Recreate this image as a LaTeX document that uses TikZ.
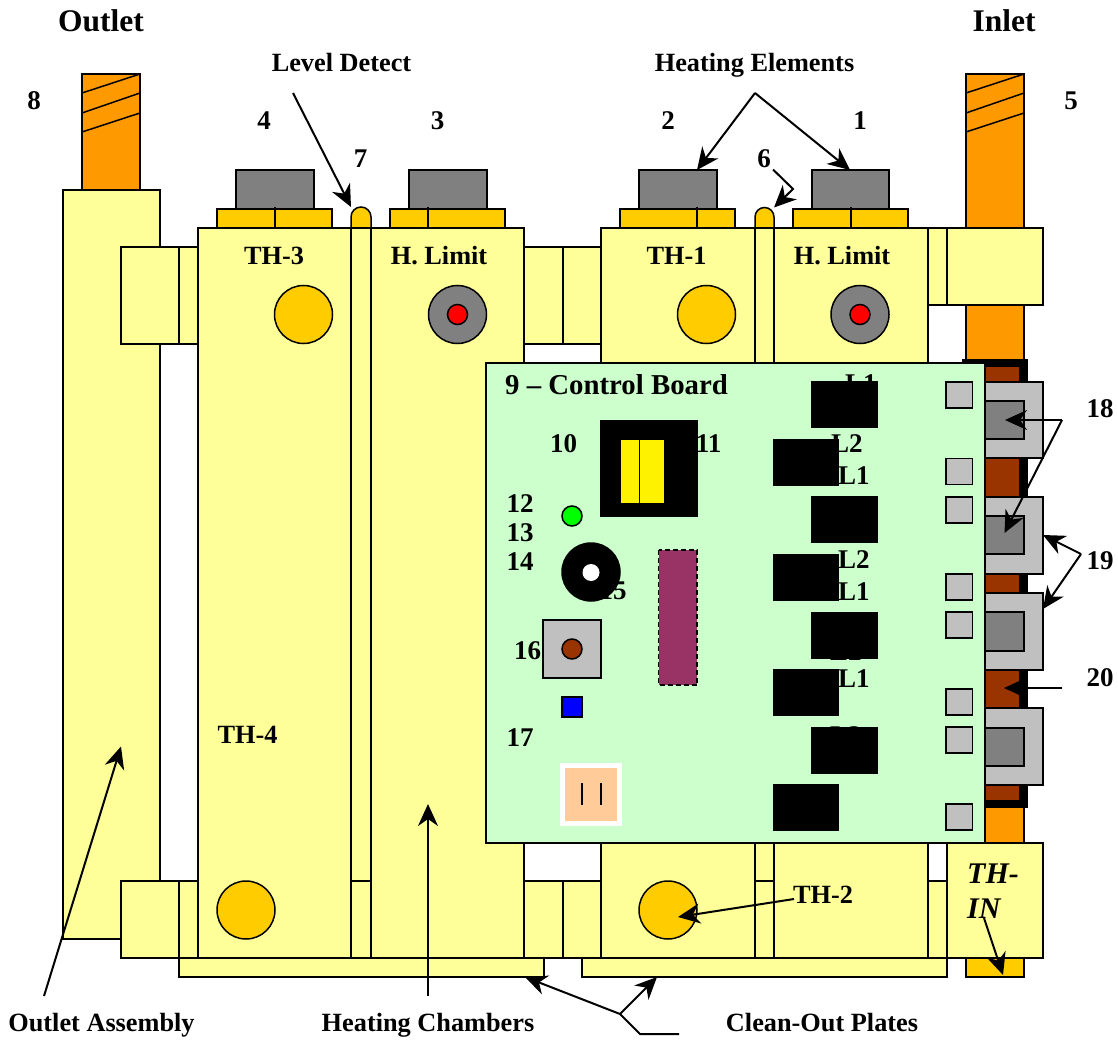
\documentclass[tikz,border=0pt]{standalone}
\usepackage{fontspec}
\setmainfont{Liberation Serif}
\usetikzlibrary{arrows.meta}
\definecolor{cyel}{HTML}{FFFF99}
\definecolor{cbrass}{HTML}{FFCC00}
\definecolor{corange}{HTML}{FF9900}
\definecolor{cgray}{HTML}{808080}
\definecolor{clight}{HTML}{C0C0C0}
\definecolor{cboard}{HTML}{CCFFCC}
\definecolor{cbrown}{HTML}{993300}
\definecolor{cplum}{HTML}{993366}
\definecolor{cpeach}{HTML}{FFCC99}
\tikzset{
  base/.style={draw=black,line width=1.5pt,line join=miter},
  yel/.style={base,fill=cyel},
  brass/.style={base,fill=cbrass},
  pipe/.style={base,fill=corange},
  grayp/.style={base,fill=cgray},
  lightp/.style={base,fill=clight},
  blk/.style={fill=black,draw=black,line width=0.5pt},
  lab/.style={anchor=base,font=\bfseries\fontsize{26.3}{30}\selectfont,inner sep=0pt},
  num/.style={anchor=base,font=\bfseries\fontsize{27}{30}\selectfont,inner sep=0pt},
  big/.style={anchor=base,font=\bfseries\fontsize{31.5}{34}\selectfont,inner sep=0pt},
  ptr/.style={draw=black,line width=2pt,-{Stealth[length=22pt,width=20pt,inset=7pt]}},
  seg/.style={draw=black,line width=2pt}
}
\begin{document}
\begin{tikzpicture}[x=1pt,y=-1pt]
\useasboundingbox (0,0) rectangle (1118,1040);
\fill[white] (0,0) rectangle (1118,1040);

% pipes
\draw[pipe] (82,74) rectangle (140,190);
\foreach \a/\b in {93/74,113/93,132/113} \draw[base] (82,\a) -- (140,\b);
\draw[pipe] (966,74) rectangle (1024,977);
\foreach \a/\b in {93/74,113/93,132/113} \draw[base] (966,\a) -- (1024,\b);
\draw[brass] (966,958) rectangle (1024,977);

% black band, brown core
\fill[black] (962,359) rectangle (1028,808);
\fill[cbrown] (985,367) rectangle (1019,800);

% clips
\foreach \t/\b/\i/\j in {382/458/401/439,497/574/516/554,593/670/612/651,708/785/728/766}{
  \draw[lightp] (966,\t) rectangle (1043,\b);
  \draw[grayp] (966,\i) rectangle (1024,\j);
}

% outlet assembly
\draw[yel] (63,190) rectangle (160,939);

% top connectors
\draw[yel] (121,247) rectangle (179,344);
\draw[yel] (179,247) rectangle (198,344);
\draw[yel] (524,247) rectangle (563,344);
\draw[yel] (563,247) rectangle (601,344);
% bottom connectors
\draw[yel] (121,881) rectangle (179,958);
\draw[yel] (179,881) rectangle (198,958);
\draw[yel] (524,881) rectangle (563,958);
\draw[yel] (563,881) rectangle (601,958);
\draw[yel] (928,881) rectangle (947,958);
\draw[yel] (928,228) rectangle (947,305);
% inlet blocks
\draw[yel] (947,228) rectangle (1043,305);
\draw[yel] (947,843) rectangle (1043,958);

% clean-out plates
\draw[yel] (179,958) rectangle (544,977);
\draw[yel] (582,958) rectangle (947,977);

% domes
\draw[brass] (351,228) -- (351,217) arc[start angle=180,end angle=360,radius=10] -- (371,228) -- cycle;
\draw[brass] (755,228) -- (755,217) arc[start angle=180,end angle=360,radius=9.5] -- (774,228) -- cycle;

% chambers
\draw[yel] (198,228) rectangle (351,958);
\draw[yel] (371,228) rectangle (524,958);
\draw[yel] (601,228) rectangle (755,958);
\draw[yel] (774,228) rectangle (928,958);
\draw[yel] (351,228) rectangle (371,881);
\draw[yel] (351,881) rectangle (371,958);
\draw[yel] (755,228) rectangle (774,881);
\draw[yel] (755,881) rectangle (774,958);

% heating elements
\foreach \gl/\gr/\fl/\fr/\d in {236/314/217/332/275,409/487/390/505/428,639/717/620/735/697,812/889/793/908/851}{
  \draw[grayp] (\gl,170) rectangle (\gr,209);
  \draw[brass] (\fl,209) rectangle (\fr,228);
  \draw[base] (\d,207) -- (\d,228);
}

% ports
\foreach \x/\y in {303.5/314.5,706.5/314.5,246/910,668/910} \draw[brass] (\x,\y) circle[radius=29];
\foreach \x in {457.5,860}{
  \draw[grayp] (\x,314.5) circle[radius=29];
  \draw[base,fill=red] (\x,314.5) circle[radius=10];
}

% board
\draw[base,fill=cboard] (486,363) rectangle (985,843);
\node[lab,anchor=base west,font=\bfseries\fontsize{28.8}{32}\selectfont] (board) at (505,394) {9 – Control Board};

% labels beneath parts
\node[num] (n10) at (563.5,452.5) {10};
\node[num] (n11) at (708.5,452.5) {11};
\node[num] (n12) at (520,512) {12};
\node[num] (n13) at (520,541) {13};
\node[num] (n14) at (520,570) {14};
\node[num] (n15) at (613,599) {15};
\node[num] (n16) at (527.5,659) {16};
\node[num] (n17) at (520,746) {17};
\node[num,anchor=base west] (la) at (845,392) {L1};
\node[num,anchor=base west] (lb) at (831,452) {L2};
\node[num,anchor=base west] (lc) at (838,484) {L1};
\node[num,anchor=base west] (ld) at (838,568) {L2};
\node[num,anchor=base west] (le) at (838,600) {L1};
\node[num,anchor=base west] (lf) at (830,660) {L2};
\node[num,anchor=base west] (lg) at (838,687) {L1};
\node[num,anchor=base west] (lh) at (830,744) {L2};

% relays
\foreach \t/\b in {381.5/427.5,496/542.5,612/658,727/773} \draw[blk] (811,\t) rectangle (877,\b);
\foreach \t/\b in {439/485,554/600,669/715,784/830} \draw[blk] (773,\t) rectangle (838,\b);

% pads
\foreach \t in {382,458.5,497,574,612,689,727,804} \draw[lightp] (946,\t) rectangle (972.5,\t+26);

% transformer
\fill[black] (600,419.5) rectangle (698,517);
\fill[yellow] (621,440) rectangle (664,503);
\draw[black,line width=1.8pt] (639.5,440) -- (639.5,503);

% small parts
\draw[base,fill=green] (572,516) circle[radius=10];
\draw[base,fill=black] (591,572) circle[radius=29];
\fill[white] (591,572.5) circle[radius=8.5];
\draw[draw=black,line width=1.8pt,fill=cplum,dash pattern=on 5pt off 3pt] (658.5,550) rectangle (697,685);
\draw[lightp] (543,620) rectangle (601,678);
\draw[base,fill=cbrown] (572,649) circle[radius=10];
\draw[base,fill=blue] (562,697) rectangle (582,717);
\draw[draw=white,line width=5pt,fill=cpeach] (562.5,765.5) rectangle (619.5,823);
\draw[base] (582,783) -- (582,805);
\draw[base] (601,783) -- (601,805);

% text labels
\node[big] (outlet) at (101,31.5) {Outlet};
\node[big] (inlet) at (1004,31.5) {Inlet};
\node[lab] (level) at (341.5,71.5) {Level Detect};
\node[lab] (heat) at (754.5,71.5) {Heating Elements};
\node[num] (n8) at (34,110) {8};
\node[num] (n5) at (1071,110) {5};
\node[num] (n4) at (264,130) {4};
\node[num] (n3) at (437.5,130) {3};
\node[num] (n2) at (668,130) {2};
\node[num] (n1) at (860,130) {1};
\node[num] (n7) at (360.5,168) {7};
\node[num] (n6) at (764,168) {6};
\node[num] (n18) at (1100,417) {18};
\node[num] (n19) at (1100,569) {19};
\node[num] (n20) at (1100,686) {20};
\node[lab] (th3) at (274,265) {TH-3};
\node[lab] (hl3) at (439,265) {H. Limit};
\node[lab] (th1) at (676.5,265) {TH-1};
\node[lab] (hl1) at (842,265) {H. Limit};
\node[lab] (th4) at (247.5,743) {TH-4};
\node[lab] (th2) at (823,903) {TH-2};
\node[anchor=base west,inner sep=0pt,font=\bfseries\itshape\fontsize{30}{34}\selectfont] (thina) at (967,883) {TH-};
\node[anchor=base west,inner sep=0pt,font=\bfseries\itshape\fontsize{30}{34}\selectfont] (thinb) at (967,918) {IN};
\node[lab] (oa) at (101.5,1031) {Outlet Assembly};
\node[lab] (hc) at (428,1031) {Heating Chambers};
\node[lab] (cp) at (822,1031) {Clean-Out Plates};

% connector coordinates
\coordinate (levelS) at (293,93);
\coordinate (levelT) at (351,207);
\coordinate (heatA) at (755,93);
\coordinate (heatL) at (697,170);
\coordinate (heatR) at (850,170);
\coordinate (sixS) at (773,169.5);
\coordinate (sixM) at (793,189);
\coordinate (sixT) at (774,207.5);
\coordinate (eiA) at (1062,420);
\coordinate (eiU) at (1005,420);
\coordinate (eiL) at (1004.5,533);
\coordinate (niA) at (1081,554);
\coordinate (niU) at (1043,535);
\coordinate (niL) at (1043,609);
\coordinate (twS) at (1062,688);
\coordinate (twT) at (1004,688);
\coordinate (tiS) at (984,918);
\coordinate (tiT) at (1003,975);
\coordinate (tzS) at (794,899);
\coordinate (tzT) at (678,917);
\coordinate (coA) at (620,1014);
\coordinate (coL) at (525,977);
\coordinate (coR) at (657,977);
\coordinate (coM) at (640,1034);
\coordinate (coE) at (679,1034);
\coordinate (oaS) at (44,996);
\coordinate (oaT) at (121,746.5);
\coordinate (hcS) at (428,996);
\coordinate (hcT) at (428,804);

% connectors
\draw[ptr] (levelS) -- (levelT);
\draw[ptr] (heatA) -- (heatL);
\draw[ptr] (heatA) -- (heatR);
\draw[ptr] (sixS) -- (sixM) -- (sixT);
\draw[ptr] (eiA) -- (eiU);
\draw[ptr] (eiA) -- (eiL);
\draw[ptr] (niA) -- (niU);
\draw[ptr] (niA) -- (niL);
\draw[ptr] (twS) -- (twT);
\draw[ptr] (tiS) -- (tiT);
\draw[ptr] (tzS) -- (tzT);
\draw[ptr] (coA) -- (coL);
\draw[ptr] (coA) -- (coR);
\draw[seg] (coA) -- (coM) -- (coE);
\draw[ptr] (oaS) -- (oaT);
\draw[ptr] (hcS) -- (hcT);
\end{tikzpicture}
\end{document}
